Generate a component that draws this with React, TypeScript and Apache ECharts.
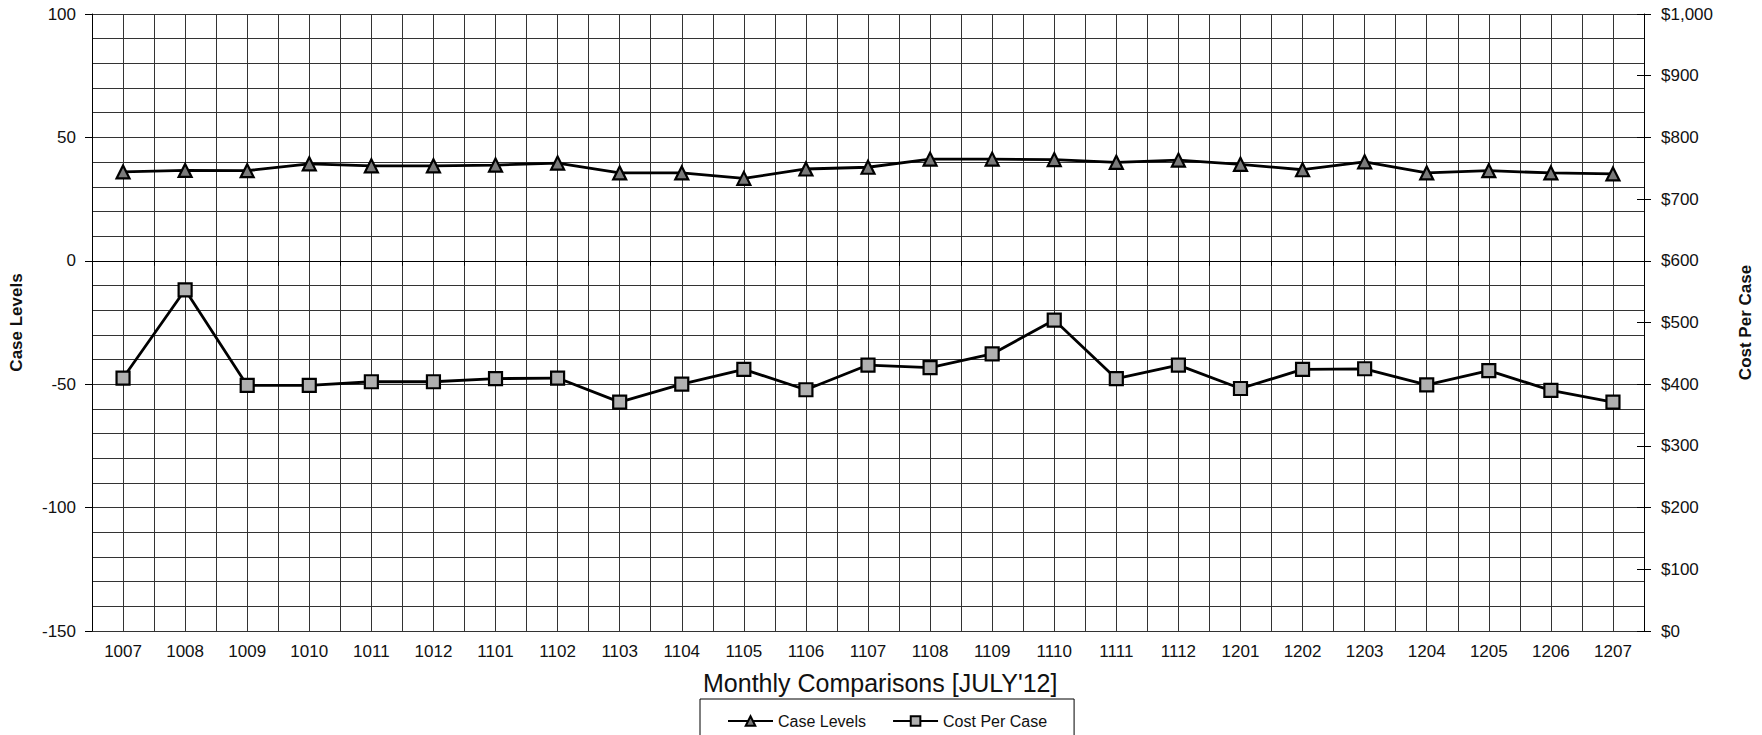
import React, { useEffect, useRef } from "react";
import * as echarts from "echarts";

const categories = [
  "1007", "1008", "1009", "1010", "1011", "1012",
  "1101", "1102", "1103", "1104", "1105", "1106", "1107", "1108", "1109", "1110", "1111", "1112",
  "1201", "1202", "1203", "1204", "1205", "1206", "1207",
];

const caseLevels = [
  36.0, 36.6, 36.5, 39.3, 38.5, 38.5,
  38.8, 39.6, 35.6, 35.6, 33.4, 37.2, 37.9, 41.2, 41.2, 41.0, 39.9, 40.8,
  39.1, 36.9, 40.1, 35.6, 36.5, 35.6, 35.2,
];

const costPerCase = [
  410, 553, 398, 398, 404, 404,
  409, 410, 371, 400, 424, 391, 431, 427, 449, 504, 409, 431,
  393, 424, 425, 399, 422, 390, 371,
];

const FONT = "'Liberation Sans', Arial, sans-serif";
const GRID = "#333333";
const INK = "#111";

export default function App() {
  const ref = useRef<HTMLDivElement>(null);

  useEffect(() => {
    if (!ref.current) return;
    const chart = echarts.init(ref.current, undefined, { renderer: "svg" });
    chart.setOption({
      animation: false,
      backgroundColor: "#fff",
      textStyle: { fontFamily: FONT, color: INK },
      grid: { left: 79, right: 101, top: 14, bottom: 104, containLabel: false },
      legend: {
        left: 700,
        top: 699,
        orient: "horizontal",
        itemWidth: 45,
        itemHeight: 12,
        itemGap: 26,
        padding: [14, 27, 22, 27],
        borderColor: "#000",
        borderWidth: 1,
        backgroundColor: "#fff",
        textStyle: { fontFamily: FONT, fontSize: 16, color: INK },
        data: ["Case Levels", "Cost Per Case"],
      },
      xAxis: [
        {
          type: "category",
          data: categories,
          position: "bottom",
          boundaryGap: true,
          axisLine: { show: true, lineStyle: { color: "#000", width: 1 } },
          axisTick: { show: true, length: 5, inside: false, lineStyle: { color: "#000" } },
          axisLabel: { interval: 0, fontSize: 17, margin: 12, color: INK, fontFamily: FONT },
          splitLine: { show: false },
        },
        {
          type: "value",
          min: 0,
          max: 25,
          interval: 0.5,
          position: "bottom",
          axisLine: { show: false },
          axisTick: { show: false },
          axisLabel: { show: false },
          splitLine: { show: true, lineStyle: { color: GRID, width: 1 } },
        },
      ],
      yAxis: [
        {
          type: "value",
          position: "left",
          min: -150,
          max: 100,
          interval: 50,
          name: "Case Levels",
          nameLocation: "middle",
          nameRotate: 90,
          nameGap: 67,
          nameTextStyle: { fontFamily: FONT, fontSize: 17, fontWeight: "bold", color: INK },
          axisLine: { show: true, lineStyle: { color: "#000", width: 1 } },
          axisTick: { show: true, length: 7, inside: false, lineStyle: { color: "#000" } },
          axisLabel: { fontSize: 17, margin: 16, color: INK, fontFamily: FONT },
          splitLine: { show: true, lineStyle: { color: GRID, width: 1 } },
          minorTick: { show: false, splitNumber: 5 },
          minorSplitLine: { show: true, lineStyle: { color: GRID, width: 1 } },
        },
        {
          type: "value",
          position: "right",
          min: 0,
          max: 1000,
          interval: 100,
          name: "Cost Per Case",
          nameLocation: "middle",
          nameRotate: 90,
          nameGap: 93,
          nameTextStyle: { fontFamily: FONT, fontSize: 17, fontWeight: "bold", color: INK },
          axisLine: { show: true, lineStyle: { color: "#000", width: 1 } },
          axisTick: { show: true, length: 7, inside: false, lineStyle: { color: "#000" } },
          axisLabel: {
            fontSize: 17,
            margin: 17,
            color: INK,
            fontFamily: FONT,
            formatter: (v: number) => "$" + v.toLocaleString("en-US"),
          },
          splitLine: { show: false },
        },
        {
          type: "value",
          position: "right",
          min: 0,
          max: 1000,
          interval: 100,
          axisLine: { show: false },
          axisTick: { show: true, length: 7, inside: true, lineStyle: { color: "#000" } },
          axisLabel: { show: false },
          splitLine: { show: false },
        },
      ],
      series: [
        {
          name: "Case Levels",
          type: "line",
          xAxisIndex: 0,
          yAxisIndex: 0,
          data: caseLevels,
          symbol: "triangle",
          symbolSize: 13,
          lineStyle: { color: "#000", width: 2.8 },
          itemStyle: { color: "#7a7a7a", borderColor: "#000", borderWidth: 2.2 },
          z: 5,
        },
        {
          name: "Cost Per Case",
          type: "line",
          xAxisIndex: 0,
          yAxisIndex: 1,
          data: costPerCase,
          symbol: "rect",
          symbolSize: 13,
          lineStyle: { color: "#000", width: 2.8 },
          itemStyle: { color: "#b0b0b0", borderColor: "#000", borderWidth: 2.2 },
          z: 5,
        },
      ],
      graphic: [
        {
          type: "text",
          left: 883 - 180,
          top: 670,
          style: {
            text: "Monthly Comparisons [JULY'12]",
            fontFamily: FONT,
            fontSize: 25,
            fill: INK,
          },
        },
      ],
    });
    return () => chart.dispose();
  }, []);

  return (
    <div
      ref={ref}
      style={{ position: "absolute", left: 0, top: 0, width: 1762, height: 735, background: "#fff" }}
    />
  );
}
